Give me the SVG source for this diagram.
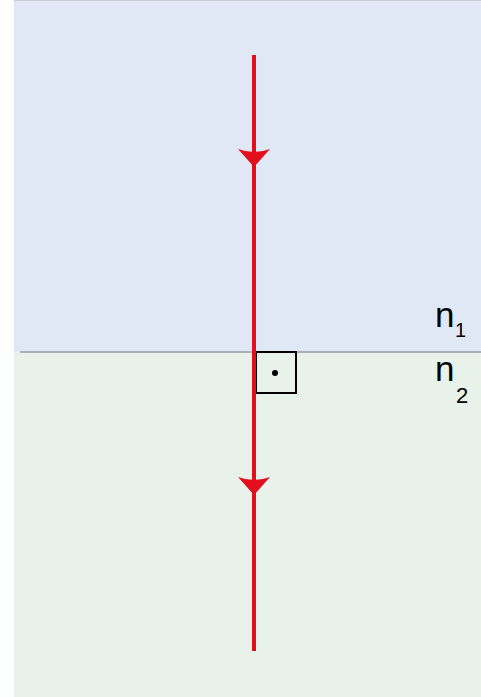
<svg xmlns="http://www.w3.org/2000/svg" width="481" height="697" viewBox="0 0 481 697">
  <style>
    .ray { stroke: #e30f1d; stroke-width: 4; fill: none; }
    .head { fill: #e30f1d; stroke: none; }
    .lbl { font-family: "Liberation Sans", Arial, sans-serif; fill: #000; }
  </style>
  <defs>
    <path id="arrowhead" d="M-16,0 Q0,6 16,0 L0,18 Z"/>
  </defs>
  <g id="medium1">
    <rect x="14" y="0" width="467" height="352" fill="#e1e8f5"/>
    <line x1="14" y1="0.5" x2="481" y2="0.5" stroke="#c6cbd3" stroke-width="1"/>
  </g>
  <g id="medium2">
    <rect x="14" y="352" width="467" height="345" fill="#e8f2ea"/>
  </g>
  <g id="interface">
    <line x1="20" y1="352" x2="481" y2="352" stroke="#959ca3" stroke-width="1.5"/>
  </g>
  <g id="right-angle">
    <rect x="256" y="352" width="40" height="41" fill="none" stroke="#000" stroke-width="2"/>
    <circle cx="275" cy="373" r="3" fill="#000"/>
  </g>
  <g id="connectors">
    <line class="ray" x1="254" y1="55" x2="254" y2="651"/>
    <use href="#arrowhead" class="head" transform="translate(254,149)"/>
    <use href="#arrowhead" class="head" transform="translate(254,477)"/>
  </g>
  <g id="label-n1">
    <text class="lbl" x="435" y="327" font-size="35">n</text>
    <text class="lbl" x="455" y="337" font-size="20">1</text>
  </g>
  <g id="label-n2">
    <text class="lbl" x="435" y="381" font-size="35">n</text>
    <text class="lbl" x="456" y="403" font-size="22">2</text>
  </g>
</svg>
